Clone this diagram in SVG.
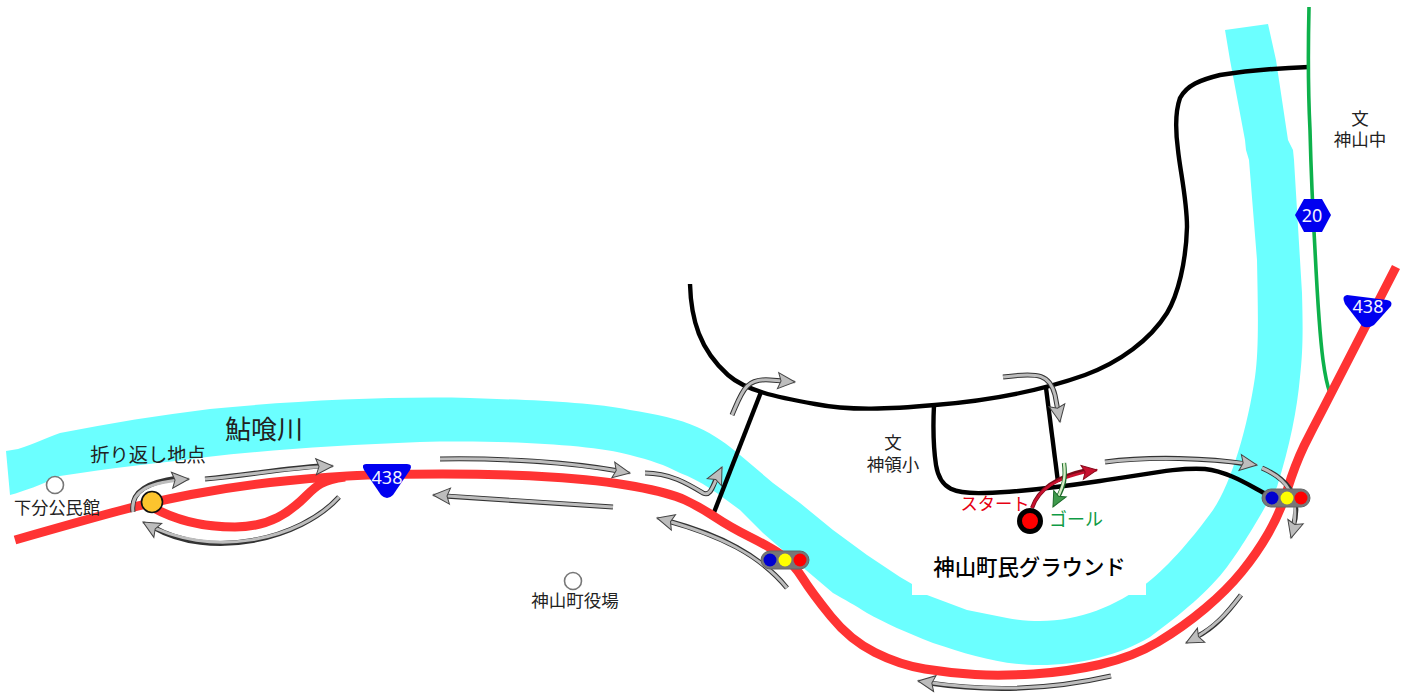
<svg xmlns="http://www.w3.org/2000/svg" width="1415" height="696" viewBox="0 0 1415 696">
<style>
text{font-family:"Noto Sans CJK JP","Noto Sans",sans-serif;fill:#222;text-anchor:middle}
.road{fill:none;stroke:#ff3333;stroke-width:9;stroke-linejoin:round}
.blk{fill:none;stroke:#000;stroke-width:4.4}
.ao{fill:none;stroke:#333;stroke-width:5}
.ai{fill:none;stroke:#bdbdbd;stroke-width:3;marker-end:url(#h)}
.w{fill:#f2f2ff;font-family:"Noto Sans","Liberation Sans",sans-serif;font-size:18px}
.tl{fill:#777;stroke:#666}
</style>
<defs>
<marker id="h" markerUnits="userSpaceOnUse" markerWidth="24" markerHeight="24" refX="17" refY="8" orient="auto" viewBox="-4 -4 24 24"><path d="M0 0L17 8L0 16L3 8Z" fill="#bdbdbd" stroke="#444" stroke-width="1"/></marker>
<marker id="hr" markerUnits="userSpaceOnUse" markerWidth="24" markerHeight="24" refX="15" refY="7" orient="auto" viewBox="-4 -4 24 24"><path d="M0 0L15 7L0 14L3 7Z" fill="#c8102e" stroke="#8a0a1c" stroke-width="1"/></marker>
<marker id="hg" markerUnits="userSpaceOnUse" markerWidth="24" markerHeight="24" refX="15" refY="7" orient="auto" viewBox="-4 -4 24 24"><path d="M0 0L15 7L0 14L3 7Z" fill="#3f9a4c" stroke="#1c6a2a" stroke-width="1"/></marker>
</defs>
<rect width="1415" height="696" fill="#fff"/>
<g id="river">
<path fill="#6bffff" d="M6 451L18 449C35 444 45 438 60 433C110 423 160 415 210 409C290 401 390 396 470 398C530 400 590 402 630 410C655 414 680 419 697 427C715 435 728 445 740 455L773 483L800 503L833 530L867 555L900 577L912 584L927 595L967 610L1007 618C1018 620 1030 621 1040 621C1080 621 1115 606 1147 583C1170 565 1195 535 1213 510C1232 482 1248 425 1255 377C1259 350 1258 310 1257 260L1249 160L1246 150L1245 140L1230 60L1225 30L1268 24L1276 60L1288 140L1293 150L1294 160L1302 293C1303 330 1303 350 1300 377C1297 410 1290 445 1277 487L1265 507C1258 520 1240 550 1227 567C1210 590 1180 615 1150 637C1120 655 1080 665 1040 665C1000 665 970 655 933 643C905 632 885 623 867 613C855 605 845 600 833 593L800 565L763 533L740 510C720 495 700 480 680 473C665 465 650 460 630 455C590 444 500 440 420 442C340 445 270 450 207 457C160 463 110 468 60 476C40 485 25 491 10 495Z"/>
<path fill="#fff" d="M912 555H1146V595H912Z"/>
</g>
<g id="connectors">
<path class="blk" d="M690 284C691 320 700 350 728 375C745 390 775 397 815 404C850 411 890 409 935 405C985 401 1040 391 1085 375C1120 362 1150 340 1167 313C1178 295 1186 262 1187 227C1187 200 1180 170 1178 150C1176 135 1174 115 1180 98C1187 85 1200 80 1220 75C1245 71 1280 68 1309 67"/>
<path class="blk" d="M761 392L713 515"/>
<path class="blk" d="M1046 388L1058 482"/>
<path class="blk" d="M934 405C933 425 933 445 936 465C940 490 955 494 985 493C1020 492 1060 487 1100 481C1140 476 1175 467 1205 469C1230 472 1250 486 1268 495"/>
<path fill="none" stroke="#0db14b" stroke-width="3.6" d="M1309 7C1308 50 1308 90 1310 130C1311 170 1313 215 1315 250C1317 290 1319 330 1323 360C1325 375 1327 385 1330 393"/>
<path class="road" d="M15 540Q85 520 118.500 511Q152 502 191 494.500Q230 487 270 482.500Q310 478 347.500 476Q385 474 442.500 474Q500 474 550 477Q600 480 635 486.500Q670 493 685 500Q700 507 715 517Q730 527 750 537Q770 547 781.500 555Q793 563 802.500 578Q812 593 831 616.500Q850 640 875 652.500Q900 665 925 669Q950 673 975 674.500Q1000 676 1033.500 674Q1067 672 1100 664.500Q1133 657 1158 642Q1183 627 1205 608.500Q1227 590 1242 571.500Q1257 553 1268.500 533Q1280 513 1287.500 489Q1295 465 1304 446Q1313 428 1322 411L1396 267"/>
<path class="road" d="M152 507C175 520 200 527 235 527C270 527 290 512 306 496C316 486 322 480 345 477"/>
<g id="arrows">
<path class="ao" d="M133 512C130 490 150 482 178 478"/><path class="ai" d="M133 512C130 490 150 482 189 479"/>
<path class="ao" d="M205 479C250 475 285 468 322 466"/><path class="ai" d="M205 479C250 475 285 468 333 466"/>
<path class="ao" d="M339 497C300 540 210 560 153 527"/><path class="ai" d="M339 497C300 540 210 560 143 522"/>
<path class="ao" d="M440 459C500 458 570 462 619 471"/><path class="ai" d="M440 459C500 458 570 462 630 473"/>
<path class="ao" d="M613 507L444 496"/><path class="ai" d="M613 507L433 495"/>
<path class="ao" d="M645 473C670 473 688 484 703 493C711 497 713 485 717 477"/><path class="ai" d="M645 473C670 473 688 484 703 493C711 497 713 485 722 467"/>
<path class="ao" d="M732 415C742 392 745 378 770 380L784 381"/><path class="ai" d="M732 415C742 392 745 378 770 380L795 382"/>
<path class="ao" d="M787 588C760 555 720 535 668 521"/><path class="ai" d="M787 588C760 555 720 535 657 518"/>
<path class="ao" d="M1003 377C1040 372 1050 375 1055 395L1058 411"/><path class="ai" d="M1003 377C1040 372 1050 375 1055 395L1060 422"/>
<path class="ao" d="M1105 462C1150 456 1210 458 1246 464"/><path class="ai" d="M1105 462C1150 456 1210 458 1257 465"/>
<path class="ao" d="M1262 468C1285 478 1303 495 1293 527"/><path class="ai" d="M1262 468C1285 478 1303 495 1291 538"/>
<path class="ao" d="M1241 595C1228 612 1215 628 1196 637"/><path class="ai" d="M1241 595C1228 612 1215 628 1186 643"/>
<path class="ao" d="M1111 676C1050 690 990 692 929 683"/><path class="ai" d="M1111 676C1050 690 990 692 918 681"/>
<path fill="none" stroke="#7a0a18" stroke-width="4" d="M1032 508C1038 490 1055 477 1087 470"/><path fill="none" stroke="#c8102e" stroke-width="2.4" marker-end="url(#hr)" d="M1032 508C1038 490 1055 477 1097 470"/>
<path fill="none" stroke="#1c6a2a" stroke-width="4.4" d="M1064 463C1066 478 1064 486 1058 497"/><path fill="none" stroke="#d4ecc4" stroke-width="2.4" marker-end="url(#hg)" d="M1064 463C1066 478 1064 486 1053 507"/>
</g>
</g>
<g id="signal1"><rect class="tl" x="761" y="551" width="48" height="18" rx="9"/><circle cx="770" cy="560" r="6.500" fill="#0000d0"/><circle cx="785" cy="560" r="6.500" fill="#ff0"/><circle cx="800" cy="560" r="6.500" fill="#f00"/></g>
<g id="signal2"><rect class="tl" x="1262" y="489" width="48" height="18" rx="9"/><circle cx="1272" cy="498" r="6.500" fill="#0000d0"/><circle cx="1287" cy="498" r="6.500" fill="#ff0"/><circle cx="1301" cy="498" r="6.500" fill="#f00"/></g>
<g id="turn"><circle cx="152" cy="502" r="10.500" fill="#fcc42e" stroke="#111" stroke-width="1.600"/></g>
<g id="start"><circle cx="1030" cy="521" r="10.500" fill="#f00" stroke="#000" stroke-width="5"/></g>
<g id="shimobun"><circle cx="55" cy="485" r="8.500" fill="#fff" stroke="#777" stroke-width="1.600"/></g>
<g id="yakuba"><circle cx="573" cy="581" r="8.500" fill="#fff" stroke="#777" stroke-width="1.600"/></g>
<g id="r438a"><path fill="#0000f0" d="M366 464H407Q413 464 410 470L393 495Q387 501 381 495L364 470Q361 464 366 464Z"/><text class="w" x="387" y="484">438</text></g>
<g id="r438b"><path fill="#0000f0" d="M1347 295L1387 300Q1393 301 1391 306L1374 325Q1368 329 1362 326L1345 304Q1341 296 1347 295Z"/><text class="w" x="1368" y="313">438</text></g>
<g id="r20"><path fill="#0000f0" d="M1295 215L1304 199H1322L1331 215L1322 232H1304Z"/><text class="w" x="1312" y="222">20</text></g>
<g id="labels">
<text x="264" y="439" font-size="26">鮎喰川</text>
<text x="148" y="462" font-size="19.300">折り返し地点</text>
<text x="57" y="514" font-size="17.200">下分公民館</text>
<text x="575" y="607" font-size="17.500">神山町役場</text>
<text x="893" y="449" font-size="17.500">文<tspan x="893" dy="22">神領小</tspan></text>
<text x="1360" y="125" font-size="17.500">文<tspan x="1360" dy="21">神山中</tspan></text>
<text x="995" y="510" font-size="17.300" style="fill:#e60012">スタート</text>
<text x="1076" y="526" font-size="18" style="fill:#0f9b46">ゴール</text>
<text x="1029.500" y="575" font-size="21.400" font-weight="500" style="fill:#000">神山町民グラウンド</text>
</g>
</svg>
